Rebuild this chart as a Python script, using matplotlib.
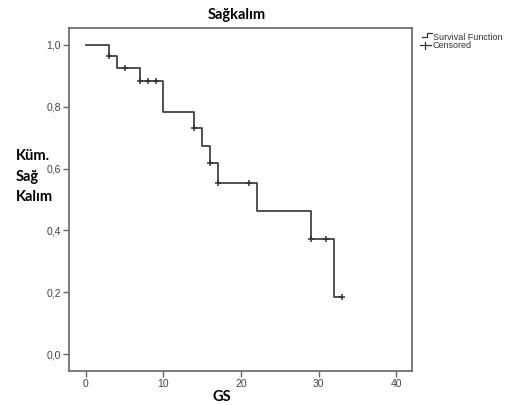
import matplotlib
matplotlib.use("Agg")
import matplotlib.pyplot as plt
from matplotlib.lines import Line2D

# Kaplan-Meier step levels (time of drop, survival after drop)
step_times = [0, 3, 4, 7, 10, 14, 15, 16, 17, 22, 29, 32, 33]
step_surv = [1.0, 0.963, 0.926, 0.885, 0.784, 0.730, 0.674, 0.617, 0.555, 0.464, 0.371, 0.186, 0.186]

# censored observations
cens_times = [3, 5, 7, 8, 9, 14, 16, 17, 21, 29, 31, 33]
cens_surv = [0.963, 0.926, 0.885, 0.885, 0.885, 0.730, 0.617, 0.555, 0.555, 0.371, 0.371, 0.186]

xticks = [0, 10, 20, 30, 40]
yticks = [0.0, 0.2, 0.4, 0.6, 0.8, 1.0]

line_col = "#333333"
frame_col = "#666666"
tick_font = "Liberation Sans"
bold_font = "Lato"

fig = plt.figure(figsize=(5.06, 4.05), dpi=100)
ax = fig.add_axes([69 / 506, 1 - 371 / 405, 343 / 506, 343 / 405])

ax.step(step_times, step_surv, where="post", color=line_col, lw=1.2)
ax.plot(cens_times, cens_surv, ls="none", marker="+", ms=5, mew=1.1, color=line_col)

ax.set_xlim(-2.19, 42.06)
ax.set_ylim(-0.055, 1.055)
ax.set_xticks(xticks)
ax.set_yticks(yticks)
ax.set_yticklabels([f"{v:.1f}".replace(".", ",") for v in yticks])
ax.tick_params(direction="out", length=4, width=1, color=frame_col,
               labelsize=7.5, labelcolor="#444444", pad=2)
for lab in ax.get_xticklabels() + ax.get_yticklabels():
    lab.set_fontfamily(tick_font)
for sp in ax.spines.values():
    sp.set_color(frame_col)
    sp.set_linewidth(1.2)

fig.text(237 / 506, 1 - 15 / 405, "Sağkalım", ha="center", va="center",
         fontsize=10.5, fontweight="bold", family=bold_font)
fig.text(222 / 506, 1 - 397 / 405, "GS", ha="center", va="center",
         fontsize=10.5, fontweight="bold", family=bold_font)
for txt, yp in [("Küm.", 156), ("Sağ", 177), ("Kalım", 197)]:
    fig.text(16 / 506, 1 - yp / 405, txt, ha="left", va="center",
             fontsize=10.5, fontweight="bold", family=bold_font)

# legend drawn next to the plot frame
def fx(px):
    return px / 506

def fy(py):
    return 1 - py / 405

fig.add_artist(Line2D([fx(422), fx(427), fx(427), fx(432)],
                      [fy(36.5), fy(36.5), fy(33), fy(33)],
                      color=line_col, lw=0.9))
fig.add_artist(Line2D([fx(420), fx(431)], [fy(45), fy(45)], color=line_col, lw=0.9))
fig.add_artist(Line2D([fx(425), fx(425)], [fy(41.5), fy(48.5)], color=line_col, lw=0.9))
fig.text(fx(433), fy(37.5), "Survival Function", ha="left", va="center",
         fontsize=6.5, family=tick_font, color="#333333")
fig.text(fx(433), fy(45.5), "Censored", ha="left", va="center",
         fontsize=6.5, family=tick_font, color="#333333")

fig.savefig("out.png", dpi=100)
